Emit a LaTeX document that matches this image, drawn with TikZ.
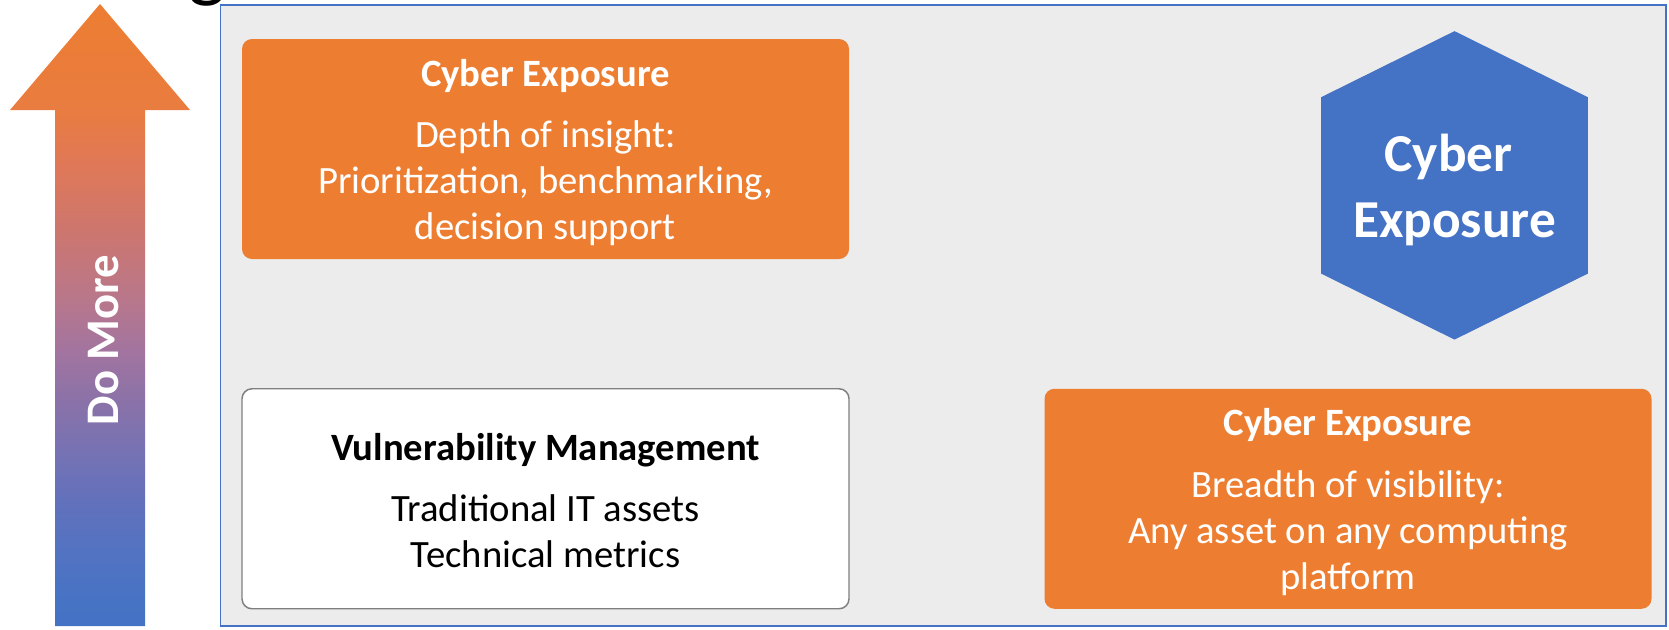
\documentclass[tikz,border=0pt]{standalone}
\usepackage{fontspec}
\setmainfont{Carlito}

\definecolor{cxorange}{RGB}{237,125,49}
\definecolor{cxblue}{RGB}{68,114,196}
\definecolor{cxpanel}{RGB}{236,236,236}
\definecolor{cxgrey}{RGB}{127,127,127}

% orange to blue, bottom is blue
\pgfdeclareverticalshading{domore}{100bp}{rgb(0bp)=(0.267,0.447,0.769); rgb(25bp)=(0.267,0.447,0.769); rgb(27bp)=(0.278,0.451,0.769); rgb(31bp)=(0.325,0.451,0.761); rgb(35bp)=(0.384,0.443,0.737); rgb(39bp)=(0.463,0.447,0.706); rgb(43bp)=(0.541,0.447,0.659); rgb(47bp)=(0.635,0.455,0.627); rgb(51bp)=(0.718,0.467,0.549); rgb(56.5bp)=(0.8,0.463,0.439); rgb(62bp)=(0.875,0.471,0.345); rgb(66.5bp)=(0.914,0.486,0.251); rgb(75bp)=(0.929,0.490,0.192); rgb(100bp)=(0.929,0.490,0.192)}

\tikzset{every picture/.style={line width=0.75pt}}
\tikzset{
  cxbox/.style={rounded corners=7.5pt, minimum width=455.25pt, minimum height=165pt, inner sep=0pt},
  cxorangebox/.style={cxbox, fill=cxorange},
  vmbox/.style={cxbox, fill=white, draw=cxgrey, line width=1.1pt},
  boxtext/.style={align=center, inner sep=0pt, font=\fontsize{29}{34.5}\selectfont},
}

\begin{document}
\begin{tikzpicture}[x=0.75pt,y=0.75pt,yscale=-1,xscale=1]
        \useasboundingbox (0,0) rectangle (1669,629);

        % Text Node (cut off title)
        \node (titleg) [anchor=base, inner sep=0pt, font=\fontsize{60}{60}\selectfont] at (207,-8) {g};

        %Shape: Rectangle [panel]
        \draw [draw=cxblue, fill=cxpanel, line width=1.1pt] (220.5,5) rectangle (1666,626);

        %Shape: Up Arrow
        \shade [shading=domore] (100,4) -- (190,110) -- (145,110) -- (145,626) -- (55,626) -- (55,110) -- (10,110) -- cycle;
        % Text Node
        \node (domore) [rotate=90, anchor=base, inner sep=0pt, text=white, font=\fontsize{35}{42}\selectfont\bfseries] at (118,340) {Do More};

        %Shape: Rounded Rectangle
        \node (insight) [cxorangebox] at (545.5,149) {};
        % Text Node
        \node (insighttext) [boxtext, text=white] at (545.5,152.5) {\textbf{Cyber Exposure}\\[11.5pt]Depth of insight:\\Prioritization, benchmarking,\\decision support};

        %Shape: Rounded Rectangle
        \node (vm) [vmbox] at (545.5,498.75) {};
        % Text Node
        \node (vmtext) [boxtext] at (545.5,500.5) {\textbf{Vulnerability Management}\\[11.5pt]Traditional IT assets\\Technical metrics};

        %Shape: Rounded Rectangle
        \node (breadth) [cxorangebox] at (1348,498.75) {};
        % Text Node
        \node (breadthtext) [boxtext, text=white] at (1348,502) {\textbf{Cyber Exposure}\\[11.5pt]Breadth of visibility:\\Any asset on any computing\\platform};

        %Shape: Hexagon
        \draw [fill=cxblue, draw=cxblue] (1454.5,31.7) -- (1587.3,97.5) -- (1587.3,273.3) -- (1454.5,339) -- (1321.7,273.3) -- (1321.7,97.5) -- cycle;
        % Text Node
        \node (hexlabel) [align=center, inner sep=0pt, text=white, font=\fontsize{40}{49.5}\selectfont\bfseries] at (1454.5,190) {Cyber\hspace*{9pt}\\Exposure};

\end{tikzpicture}
\end{document}
